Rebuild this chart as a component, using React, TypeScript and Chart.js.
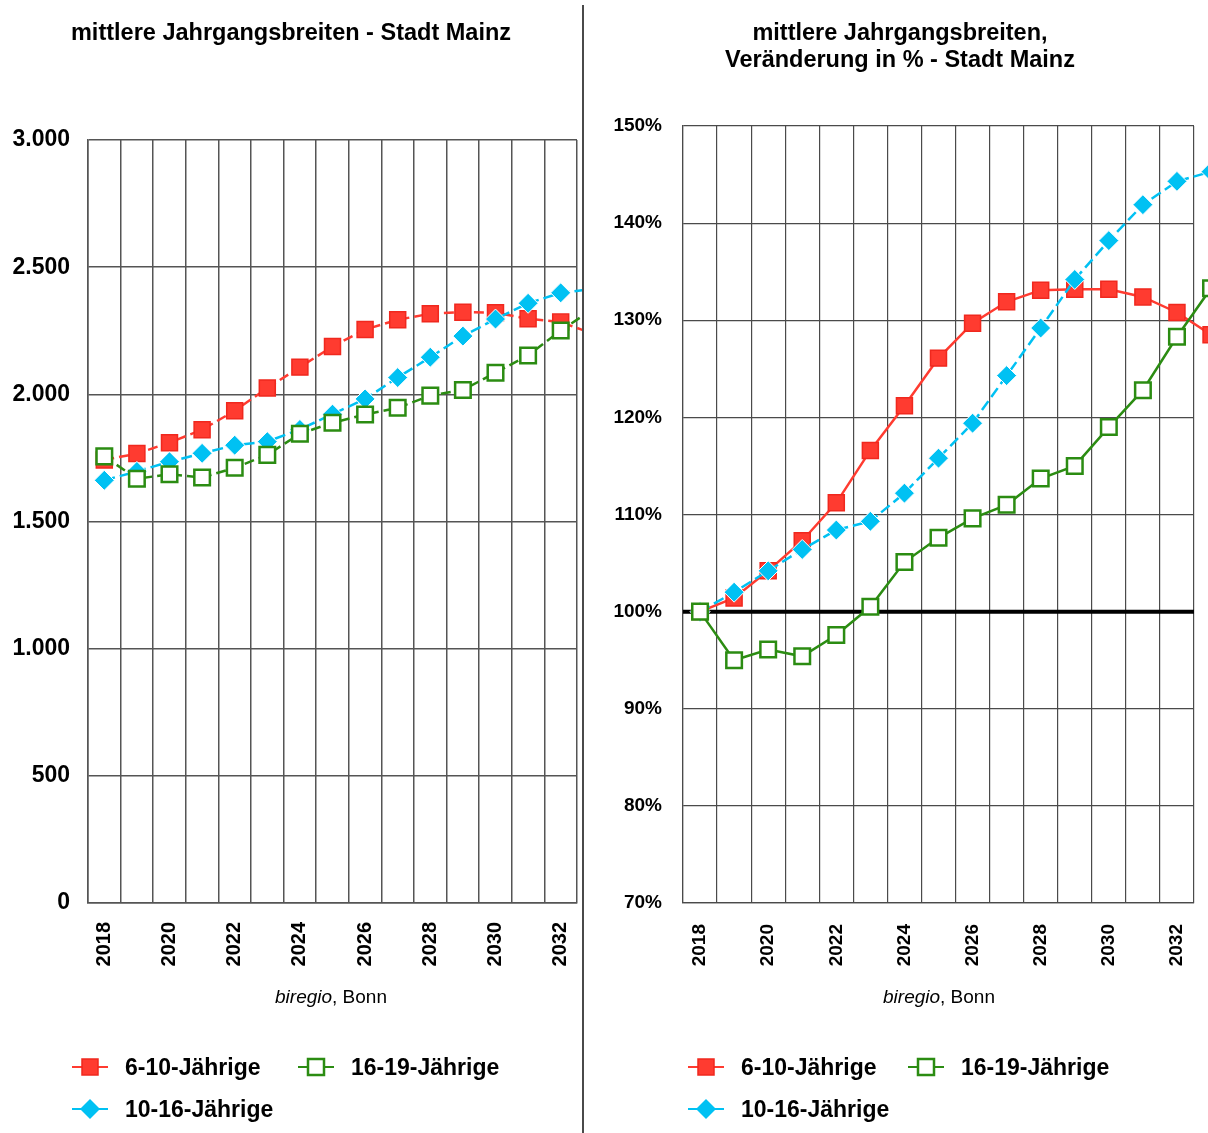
import React, { useEffect, useRef } from 'react';
import { Chart, registerables } from 'chart.js';

Chart.register(...registerables);

// ---------- data ----------
const YEARS = ['2018', '2019', '2020', '2021', '2022', '2023', '2024', '2025', '2026', '2027', '2028', '2029', '2030', '2031', '2032', '2033'];
const FIRST_YEAR = 2018;
const LAST_SHOWN_YEAR = 2032; // axis ends at 2032, the 2033 values run off the edge

const SERIES_NAMES = ['6-10-Jährige', '10-16-Jährige', '16-19-Jährige'];

// absolute values (mittlere Jahrgangsbreiten)
const ABS_6_10 = [1742, 1767, 1810, 1861, 1935, 2025, 2107, 2188, 2255, 2293, 2317, 2323, 2321, 2297, 2284, 2238];
const ABS_10_16 = [1662, 1697, 1735, 1768, 1800, 1814, 1862, 1922, 1982, 2066, 2146, 2229, 2296, 2358, 2399, 2415];
const ABS_16_19 = [1756, 1668, 1686, 1673, 1711, 1762, 1845, 1888, 1921, 1947, 1995, 2017, 2085, 2153, 2251, 2336];

// change in percent (2018 = 100 %)
const PCT_6_10 = [100, 101.4, 104.2, 107.3, 111.2, 116.6, 121.2, 126.1, 129.7, 131.9, 133.1, 133.2, 133.2, 132.4, 130.8, 128.5];
const PCT_10_16 = [100, 102.0, 104.2, 106.4, 108.4, 109.3, 112.2, 115.8, 119.4, 124.3, 129.2, 134.2, 138.2, 141.9, 144.3, 145.3];
const PCT_16_19 = [100, 95.0, 96.1, 95.4, 97.6, 100.5, 105.1, 107.6, 109.6, 111.0, 113.7, 115.0, 119.0, 122.8, 128.3, 133.3];

const TITLE_LEFT = ['mittlere Jahrgangsbreiten - Stadt Mainz'];
const TITLE_RIGHT = ['mittlere Jahrgangsbreiten,', 'Veränderung in % - Stadt Mainz'];
const SOURCE_ITALIC = 'biregio';
const SOURCE_REST = ', Bonn';

// ---------- styles ----------
const FONT = "'Liberation Sans', Arial, Helvetica, sans-serif";
const RED = '#FF3B30';
const RED_EDGE = '#F0281E';
const CYAN = '#00C1F3';
const GREEN = '#2B8C12';

const fmtThousands = (n: number) => String(n).replace(/\B(?=(\d{3})+(?!\d))/g, '.');

type Panel = {
  offsetX: number;
  width: number;
  padding: { left: number; right: number; top: number; bottom: number };
  yWidth: number;
  yMin: number;
  yMax: number;
  yStep: number;
  yFont: number;
  yPad: number;
  yFormat: (v: number) => string;
  xFont: number;
  xPad: number;
  gridColor: string;
  gridWidth: number;
  data: [number[], number[], number[]];
  dashed: [boolean, boolean, boolean];
  baseline?: number;
  title: string[];
  titleX: number;
  titleY: number[];
  sourceX: number;
  legend: { idx: number; x: number; y: number }[];
};

function drawMarker(ctx: CanvasRenderingContext2D, idx: number, x: number, y: number) {
  ctx.save();
  ctx.setLineDash([]);
  if (idx === 0) {
    ctx.fillStyle = RED;
    ctx.strokeStyle = RED_EDGE;
    ctx.lineWidth = 1.5;
    ctx.fillRect(x - 8, y - 8, 16, 16);
    ctx.strokeRect(x - 8, y - 8, 16, 16);
  } else if (idx === 1) {
    ctx.fillStyle = CYAN;
    ctx.beginPath();
    ctx.moveTo(x, y - 10);
    ctx.lineTo(x + 10, y);
    ctx.lineTo(x, y + 10);
    ctx.lineTo(x - 10, y);
    ctx.closePath();
    ctx.fill();
  } else {
    ctx.fillStyle = '#fff';
    ctx.strokeStyle = GREEN;
    ctx.lineWidth = 2.5;
    ctx.fillRect(x - 8, y - 8, 16, 16);
    ctx.strokeRect(x - 8, y - 8, 16, 16);
  }
  ctx.restore();
}

const COLORS = [RED, CYAN, GREEN];

function makeDecor(p: Panel) {
  return {
    id: 'decor',
    beforeDatasetsDraw(chart: any) {
      if (p.baseline === undefined) return;
      const { ctx, chartArea, scales } = chart;
      const y = scales.y.getPixelForValue(p.baseline);
      ctx.save();
      ctx.strokeStyle = '#000';
      ctx.lineWidth = 4;
      ctx.beginPath();
      ctx.moveTo(chartArea.left, y);
      ctx.lineTo(chartArea.right, y);
      ctx.stroke();
      ctx.restore();
    },
    afterDatasetsDraw(chart: any) {
      // markers of the values that lie beyond the plot edge (2033), cut by the canvas edge
      const ctx = chart.ctx;
      const big = { left: -200, top: -200, right: chart.width + 200, bottom: chart.height + 200 };
      const metas = chart.getSortedVisibleDatasetMetas();
      ctx.save();
      ctx.setLineDash([]);
      for (let i = metas.length - 1; i >= 0; i--) {
        metas[i].data.forEach((pt: any) => {
          if (pt.x > chart.chartArea.right + 1) pt.draw(ctx, big);
        });
      }
      ctx.restore();
    },
    afterDraw(chart: any) {
      const ctx: CanvasRenderingContext2D = chart.ctx;
      const ox = p.offsetX;
      ctx.save();
      // titles
      ctx.fillStyle = '#000';
      ctx.textAlign = 'center';
      ctx.textBaseline = 'middle';
      ctx.font = `bold 23.5px ${FONT}`;
      p.title.forEach((t, i) => ctx.fillText(t, p.titleX - ox, p.titleY[i]));
      // source
      ctx.font = `italic 19px ${FONT}`;
      const w1 = ctx.measureText(SOURCE_ITALIC).width;
      ctx.font = `19px ${FONT}`;
      const w2 = ctx.measureText(SOURCE_REST).width;
      const sx = p.sourceX - ox - (w1 + w2) / 2;
      ctx.textAlign = 'left';
      ctx.font = `italic 19px ${FONT}`;
      ctx.fillText(SOURCE_ITALIC, sx, 998);
      ctx.font = `19px ${FONT}`;
      ctx.fillText(SOURCE_REST, sx + w1, 998);
      // legend
      p.legend.forEach(({ idx, x, y }) => {
        const mx = x - ox;
        ctx.strokeStyle = COLORS[idx];
        ctx.lineWidth = 2;
        ctx.setLineDash([]);
        ctx.beginPath();
        ctx.moveTo(mx - 18, y);
        ctx.lineTo(mx - 8, y);
        ctx.moveTo(mx + 8, y);
        ctx.lineTo(mx + 18, y);
        ctx.stroke();
        drawMarker(ctx, idx, mx, y);
        ctx.fillStyle = '#000';
        ctx.font = `bold 23px ${FONT}`;
        ctx.textAlign = 'left';
        ctx.textBaseline = 'middle';
        ctx.fillText(SERIES_NAMES[idx], mx + 35, y + 2);
      });
      ctx.restore();
    },
  };
}

function buildConfig(p: Panel): any {
  const [red, cyan, green] = p.data;
  const pts = (vals: number[]) => vals.map((v, i) => ({ x: Number(YEARS[i]), y: v }));
  const common = { borderWidth: 2.5, clip: false, tension: 0, fill: false };
  const xMin = FIRST_YEAR - 0.5;
  const xMax = LAST_SHOWN_YEAR + 0.5;
  const cellPx = (p.width - p.padding.right - p.yWidth - p.padding.left) / (xMax - xMin);
  return {
    type: 'line',
    data: {
      datasets: [
        {
          ...common,
          label: SERIES_NAMES[0],
          data: pts(red),
          borderColor: RED,
          borderDash: p.dashed[0] ? [10, 5] : [],
          pointStyle: 'rect',
          pointRadius: 11.3,
          pointBackgroundColor: RED,
          pointBorderColor: RED_EDGE,
          pointBorderWidth: 1.5,
          order: 2,
        },
        {
          ...common,
          label: SERIES_NAMES[1],
          data: pts(cyan),
          borderColor: CYAN,
          borderDash: p.dashed[1] ? [11, 5] : [],
          pointStyle: 'rectRot',
          pointRadius: 10,
          pointBackgroundColor: CYAN,
          pointBorderColor: '#ffffff',
          pointBorderWidth: 1,
          order: 1,
        },
        {
          ...common,
          label: SERIES_NAMES[2],
          data: pts(green),
          borderColor: GREEN,
          borderDash: p.dashed[2] ? [10, 5] : [],
          pointStyle: 'rect',
          pointRadius: 11,
          pointBackgroundColor: '#ffffff',
          pointBorderColor: GREEN,
          pointBorderWidth: 2.5,
          order: 0,
        },
      ],
    },
    options: {
      responsive: false,
      animation: false,
      events: [],
      devicePixelRatio: 1,
      layout: { padding: p.padding, autoPadding: false },
      plugins: { legend: { display: false }, title: { display: false }, tooltip: { enabled: false } },
      scales: {
        x: {
          type: 'linear',
          min: xMin,
          max: xMax,
          grid: { color: p.gridColor, lineWidth: p.gridWidth, drawTicks: false },
          border: { display: true, color: p.gridColor, width: p.gridWidth },
          afterBuildTicks: (s: any) => {
            const t = [];
            for (let v = xMin; v <= xMax + 1e-9; v += 1) t.push({ value: v });
            s.ticks = t;
          },
          ticks: {
            autoSkip: false,
            minRotation: 90,
            maxRotation: 90,
            padding: p.xPad,
            labelOffset: cellPx / 2,
            color: '#000',
            font: { family: FONT, size: p.xFont, weight: 'bold' },
            callback: (value: number) => {
              const yr = Math.round(value + 0.5);
              return yr <= LAST_SHOWN_YEAR && (yr - FIRST_YEAR) % 2 === 0 ? String(yr) : '';
            },
          },
          afterFit: (s: any) => {
            s.height = 80;
            s.paddingLeft = 0;
            s.paddingRight = 0;
          },
        },
        y: {
          min: p.yMin,
          max: p.yMax,
          grid: { color: p.gridColor, lineWidth: p.gridWidth, drawTicks: false },
          border: { display: true, color: p.gridColor, width: p.gridWidth },
          ticks: {
            stepSize: p.yStep,
            padding: p.yPad,
            color: '#000',
            font: { family: FONT, size: p.yFont, weight: 'bold' },
            callback: (v: number) => p.yFormat(v),
          },
          afterFit: (s: any) => {
            s.width = p.yWidth;
            s.paddingTop = 0;
            s.paddingBottom = 0;
          },
        },
      },
    },
    plugins: [makeDecor(p)],
  };
}

const LEFT: Panel = {
  offsetX: 0,
  width: 582,
  padding: { left: 0, right: 5, top: 140, bottom: 150 },
  yWidth: 88,
  yMin: 0,
  yMax: 3000,
  yStep: 500,
  yFont: 23,
  yPad: 18,
  yFormat: fmtThousands,
  xFont: 20,
  xPad: 19,
  gridColor: '#555555',
  gridWidth: 1.5,
  data: [ABS_6_10, ABS_10_16, ABS_16_19],
  dashed: [true, true, true],
  title: TITLE_LEFT,
  titleX: 291,
  titleY: [34],
  sourceX: 331,
  legend: [
    { idx: 0, x: 90, y: 1067 },
    { idx: 2, x: 316, y: 1067 },
    { idx: 1, x: 90, y: 1109 },
  ],
};

const RIGHT: Panel = {
  offsetX: 585,
  width: 623,
  padding: { left: 0, right: 14, top: 126, bottom: 150 },
  yWidth: 98,
  yMin: 70,
  yMax: 150,
  yStep: 10,
  yFont: 19,
  yPad: 21,
  yFormat: (v: number) => `${v}%`,
  xFont: 19,
  xPad: 21,
  gridColor: '#4a4a4a',
  gridWidth: 1.2,
  data: [PCT_6_10, PCT_10_16, PCT_16_19],
  dashed: [false, true, false],
  baseline: 100,
  title: TITLE_RIGHT,
  titleX: 900,
  titleY: [34, 61],
  sourceX: 939,
  legend: [
    { idx: 0, x: 706, y: 1067 },
    { idx: 2, x: 926, y: 1067 },
    { idx: 1, x: 706, y: 1109 },
  ],
};

function ChartPanel({ panel }: { panel: Panel }) {
  const ref = useRef<HTMLCanvasElement | null>(null);
  useEffect(() => {
    if (!ref.current) return;
    const chart = new Chart(ref.current, buildConfig(panel));
    return () => chart.destroy();
  }, [panel]);
  return (
    <canvas
      ref={ref}
      width={panel.width}
      height={1133}
      style={{ position: 'absolute', left: panel.offsetX, top: 0, width: panel.width, height: 1133 }}
    />
  );
}

export default function App() {
  return (
    <div style={{ position: 'absolute', left: 0, top: 0, width: 1208, height: 1133, background: '#fff', overflow: 'hidden' }}>
      <ChartPanel panel={LEFT} />
      <div style={{ position: 'absolute', left: 582, top: 5, width: 2, height: 1128, background: '#4a4a4a' }} />
      <ChartPanel panel={RIGHT} />
    </div>
  );
}
